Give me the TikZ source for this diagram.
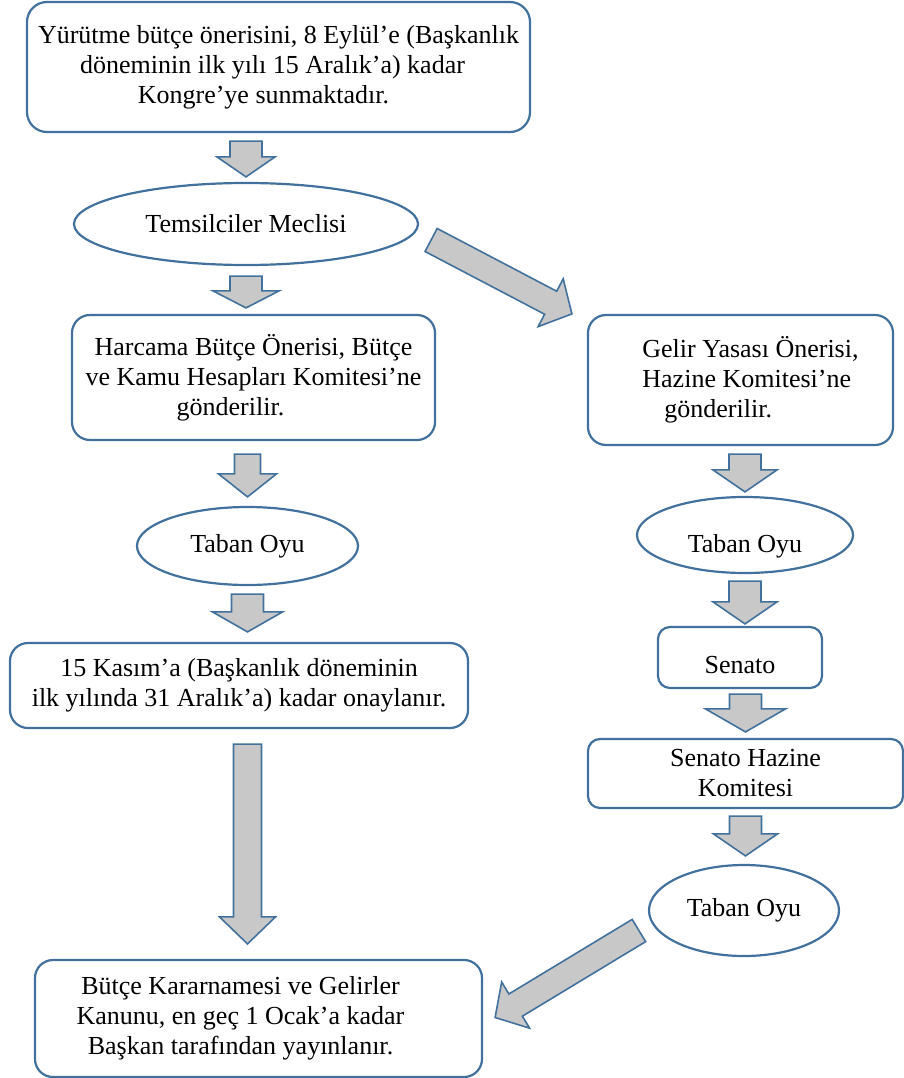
\documentclass[tikz,border=0pt]{standalone}
\usepackage{fontspec}
\setmainfont{Liberation Serif}
\usetikzlibrary{shapes.geometric,calc}

\definecolor{kutumavi}{RGB}{65,113,156}
\definecolor{okgri}{RGB}{200,200,200}

\tikzset{
  kutu/.style={draw=kutumavi, line width=2.2pt, rounded corners=18pt, align=center, inner sep=0pt},
  elips/.style={ellipse, draw=kutumavi, line width=2.2pt, align=center, inner sep=0pt},
  gov/.store in=\okgov, bas/.store in=\okbas, uc/.store in=\okuc,
  bosluk1/.store in=\okba, bosluk2/.store in=\okbi,
  gov=16pt, bas=32pt, uc=22pt, bosluk1=0pt, bosluk2=0pt,
  ok/.style={draw=kutumavi, fill=okgri, line width=1.6pt, line join=miter,
    to path={
      let \p1=($(\tikztostart)!\okba!(\tikztotarget)$),
          \p2=($(\tikztotarget)!\okbi!(\tikztostart)$),
          \p3=($(\p2)!\okuc!(\p1)$) in
      ($(\p1)!\okgov!90:(\p2)$) -- ($(\p3)!\okgov!-90:(\p1)$) -- ($(\p3)!\okbas!-90:(\p1)$)
      -- (\p2) -- ($(\p3)!\okbas!90:(\p1)$) -- ($(\p3)!\okgov!90:(\p1)$)
      -- ($(\p1)!\okgov!-90:(\p2)$) -- cycle
    }},
}

\begin{document}
\begin{tikzpicture}[x=1pt, y=1pt, font=\fontsize{26}{30}\selectfont]
 \useasboundingbox (0,0) rectangle (904,-1078);
 % sol sutun
 \node[kutu, minimum width=503pt, minimum height=130pt, rounded corners=20pt] (yurutme) at (278.5,-67) {Yürütme bütçe önerisini, 8 Eylül’e (Başkanlık\\ döneminin ilk yılı 15 Aralık’a) kadar\kern12pt\null\\ Kongre’ye sunmaktadır.\kern30pt\null};
 \node[elips, minimum width=344pt, minimum height=82pt] (meclis) at (246,-224) {Temsilciler Meclisi};
 \node[kutu, minimum width=363pt, minimum height=125pt] (harcama) at (253.5,-377.5) {Harcama Bütçe Önerisi, Bütçe\\ ve Kamu Hesapları Komitesi’ne\\ gönderilir.\kern46pt\null};
 \node[elips, minimum width=221pt, minimum height=78pt] (tabanA) at (247.5,-546) {Taban Oyu};
 \node[kutu, minimum width=458pt, minimum height=85pt] (kasim) at (239,-685.5) {15 Kasım’a (Başkanlık döneminin\\ ilk yılında 31 Aralık’a) kadar onaylanır.};
 \node[kutu, minimum width=447pt, minimum height=117pt] (yayin) at (258.5,-1018.5) {Bütçe Kararnamesi ve Gelirler\kern36pt\null\\ Kanunu, en geç 1 Ocak’a kadar\kern36pt\null\\ Başkan tarafından yayınlanır.\kern36pt\null};
 % sag sutun
 \node[kutu, minimum width=305pt, minimum height=130pt, align=left] (gelir) at (740.5,-380) {\hspace*{20pt}Gelir Yasası Önerisi,\\ \hspace*{20pt}Hazine Komitesi’ne\\ \hspace*{42pt}gönderilir.};
 \node[elips, minimum width=216pt, minimum height=76pt, text height=40pt] (tabanB) at (745,-535) {Taban Oyu};
 \node[kutu, minimum width=164pt, minimum height=61pt, rounded corners=12pt, text height=33pt] (senato) at (740,-657.5) {Senato};
 \node[kutu, minimum width=315pt, minimum height=69pt, rounded corners=12pt] (hazine) at (745.5,-773.5) {Senato Hazine\\ Komitesi};
 \node[elips, minimum width=190pt, minimum height=91pt] (tabanC) at (744,-910.5) {Taban Oyu};
 % oklar
 \draw[ok, bas=29pt, uc=20pt, bosluk1=8pt, bosluk2=5pt] (yurutme.south -| meclis.north) to (meclis.north);
 \draw[ok, bas=33pt, uc=17pt, bosluk1=10pt, bosluk2=6pt] (meclis.south) to (meclis.south |- harcama.north);
 \draw[ok, gov=13pt, bas=29pt, uc=23pt, bosluk1=13pt, bosluk2=9pt] (harcama.south -| tabanA.north) to (tabanA.north);
 \draw[ok, bas=35pt, uc=20pt, bosluk1=8pt, bosluk2=10pt] (tabanA.south) to (tabanA.south |- kasim.north);
 \draw[ok, gov=14pt, bas=28pt, uc=27pt, bosluk1=15pt, bosluk2=15pt] (kasim.south -| tabanA.south) to (yayin.north -| tabanA.south);
 \draw[ok, gov=13pt, bas=27pt, uc=24pt] ($(meclis.east)+(12,-16)$) to ($(gelir.north west)+(-15,0)$);
 \draw[ok, bosluk1=8pt, bosluk2=4pt] (gelir.south -| tabanB.north) to (tabanB.north);
 \draw[ok, bosluk1=7pt, bosluk2=2pt] (tabanB.south) to (tabanB.south |- senato.north);
 \draw[ok, bas=40pt, uc=23pt, bosluk1=5pt, bosluk2=6pt] (senato.south -| hazine.north) to (hazine.north);
 \draw[ok, bosluk1=7pt, bosluk2=8pt] (hazine.south) to (hazine.south |- tabanC.north);
 \draw[ok, gov=13pt, bas=27pt, uc=24pt] ($(tabanC.west)+(-9,-20)$) to ($(yayin.east)+(12,1)$);
\end{tikzpicture}
\end{document}
